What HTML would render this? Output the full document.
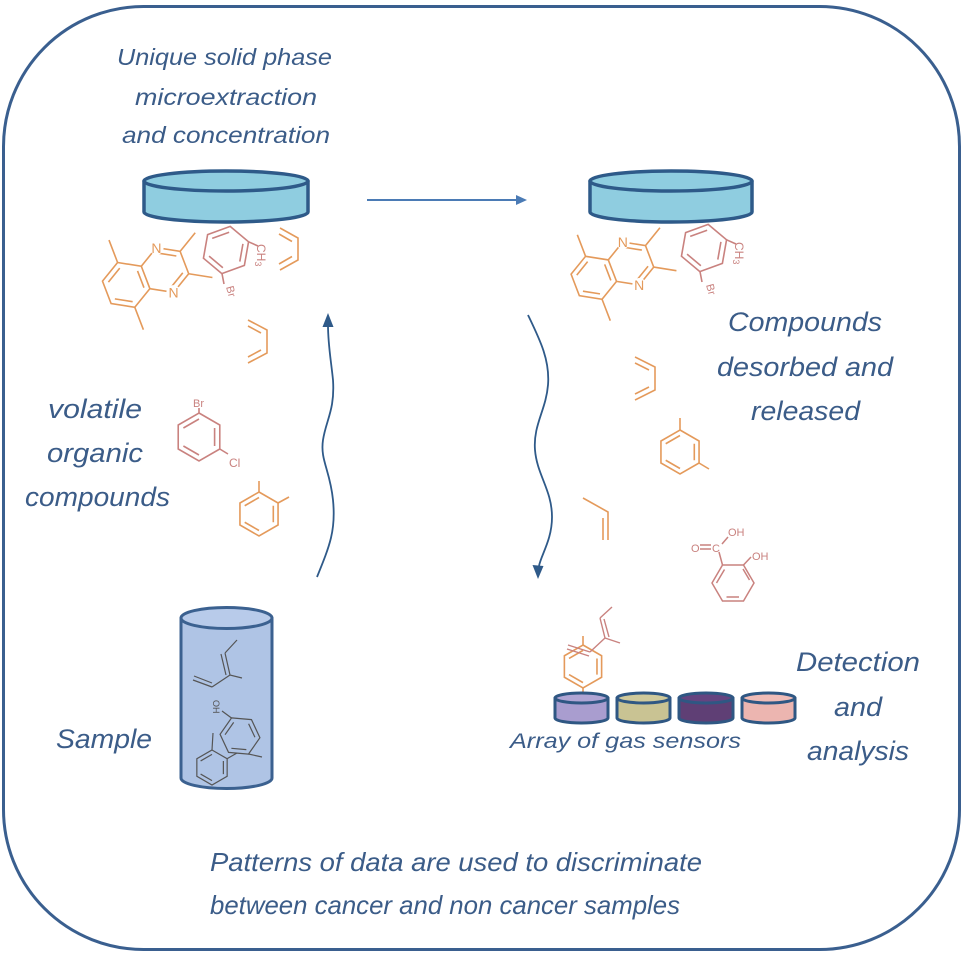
<!DOCTYPE html>
<html><head><meta charset="utf-8"><style>
html,body{margin:0;padding:0;background:#fff;}
svg{display:block;}
.t{font-family:"Liberation Sans",sans-serif;font-style:italic;fill:#3b5c88;}
.lbl{font-family:"Liberation Sans",sans-serif;}
</style></head><body>
<svg width="967" height="956" viewBox="0 0 967 956" xmlns="http://www.w3.org/2000/svg">
<defs>
<g id="hex"><path d="M0,-1 L0.866,-0.5 L0.866,0.5 L0,1 L-0.866,0.5 L-0.866,-0.5 Z M0.65,-0.375 L0.65,0.375 M0,0.75 L-0.65,0.375 M-0.65,-0.375 L0,-0.75" fill="none" vector-effect="non-scaling-stroke"/></g>
</defs>
<rect x="0" y="0" width="967" height="956" fill="#fff"/>
<rect x="3.5" y="6.5" width="956" height="943" rx="140" ry="140" fill="none" stroke="#3a5f8f" stroke-width="3"/>

<!-- Texts -->
<text class="t" x="117" y="65" font-size="23" textLength="215" lengthAdjust="spacingAndGlyphs">Unique solid phase</text>
<text class="t" x="135" y="105" font-size="23" textLength="182" lengthAdjust="spacingAndGlyphs">microextraction</text>
<text class="t" x="122" y="143" font-size="23" textLength="208" lengthAdjust="spacingAndGlyphs">and concentration</text>

<text class="t" x="728" y="331" font-size="27" textLength="154" lengthAdjust="spacingAndGlyphs">Compounds</text>
<text class="t" x="717" y="376" font-size="27" textLength="176" lengthAdjust="spacingAndGlyphs">desorbed and</text>
<text class="t" x="751" y="420" font-size="27" textLength="109" lengthAdjust="spacingAndGlyphs">released</text>

<text class="t" x="48" y="418" font-size="27" textLength="94" lengthAdjust="spacingAndGlyphs">volatile</text>
<text class="t" x="47" y="462" font-size="27" textLength="96" lengthAdjust="spacingAndGlyphs">organic</text>
<text class="t" x="25" y="506" font-size="27" textLength="145" lengthAdjust="spacingAndGlyphs">compounds</text>

<text class="t" x="56" y="748" font-size="27" textLength="96" lengthAdjust="spacingAndGlyphs">Sample</text>

<text class="t" x="796" y="671" font-size="27" textLength="124" lengthAdjust="spacingAndGlyphs">Detection</text>
<text class="t" x="834" y="716" font-size="27" textLength="48" lengthAdjust="spacingAndGlyphs">and</text>
<text class="t" x="807" y="760" font-size="27" textLength="102" lengthAdjust="spacingAndGlyphs">analysis</text>

<text class="t" x="510" y="748" font-size="21" textLength="231" lengthAdjust="spacingAndGlyphs">Array of gas sensors</text>

<text class="t" x="210" y="871" font-size="26" textLength="492" lengthAdjust="spacingAndGlyphs">Patterns of data are used to discriminate</text>
<text class="t" x="210" y="914" font-size="26" textLength="470" lengthAdjust="spacingAndGlyphs">between cancer and non cancer samples</text>

<!-- Horizontal arrow -->
<line x1="367" y1="200" x2="517" y2="200" stroke="#4b7bb5" stroke-width="2"/>
<polygon points="527,200 516,195 516,205" fill="#4b7bb5"/>

<!-- Wavy up arrow -->
<path d="M317,577 C330,545 336,530 333,500 C330,470 320,460 323,440 C326,420 335,410 333,380 C331,360 328,345 328,325" fill="none" stroke="#2f5a89" stroke-width="1.8"/>
<polygon points="328,313 322.5,327 333.5,327" fill="#2f5a89"/>

<!-- Wavy down arrow -->
<path d="M528,315 C540,340 550,360 548,385 C546,410 533,425 535,450 C537,475 552,490 552,517 C552,540 541,555 539,566" fill="none" stroke="#2f5a89" stroke-width="1.8"/>
<polygon points="538,579 532.5,565 543.5,566" fill="#2f5a89"/>

<!-- ===== Left top molecules ===== -->
<g stroke="#e49a5b" stroke-width="1.6" fill="none">
 <g transform="translate(165,270) rotate(-21) scale(24) translate(-1.732,0)">
  <use href="#hex"/>
  <path vector-effect="non-scaling-stroke" d="M0.866,-0.5 L1.732,-1 L2.598,-0.5 L2.598,0.5 L1.732,1 L0.866,0.5 M1.732,-0.75 L2.382,-0.375 M2.382,0.375 L1.732,0.75 M0,-1 L0,-2 M0,1 L0,2 M2.598,-0.5 L3.464,-1 M2.598,0.5 L3.464,1"/>
  <circle cx="1.732" cy="-1" r="0.3" fill="#fff" stroke="none"/>
  <circle cx="1.732" cy="1" r="0.3" fill="#fff" stroke="none"/>
 </g>
</g>
<text class="lbl" x="156.4" y="253" font-size="14" fill="#e49a5b" text-anchor="middle">N</text>
<text class="lbl" x="173.6" y="297.5" font-size="14" fill="#e49a5b" text-anchor="middle">N</text>

<g stroke="#c9827f" stroke-width="1.6" fill="none">
 <use href="#hex" transform="translate(226,250) rotate(10) scale(24)"/>
 <path d="M248.6,241.8 L258,246 M222,273.6 L224,284"/>
</g>
<text class="lbl" transform="translate(257,244) rotate(90)" font-size="12" fill="#c9827f">CH<tspan font-size="9" dy="2">3</tspan></text>
<text class="lbl" transform="translate(226,287) rotate(75)" font-size="11" fill="#c9827f">Br</text>

<g stroke="#e49a5b" stroke-width="1.6" fill="none">
 <path d="M280,228 L298,238 L298,260 L280,270"/>
 <path d="M279,234 L292,241.5 M292,256.5 L279,264"/>
</g>

<!-- Left disk -->
<path d="M144,181 L144,212 A82,10 0 0 0 308,212 L308,181 Z" fill="#8fcde0" stroke="#2e5a89" stroke-width="3.5" stroke-linejoin="round"/>
<ellipse cx="226" cy="181" rx="82" ry="10" fill="#8fcde0" stroke="#2e5a89" stroke-width="3.5"/>

<g stroke="#e49a5b" stroke-width="1.6" fill="none">
 <path d="M248,320 L267,330 L267,353 L248,363"/>
 <path d="M248,326 L261,333 M261,350 L248,357"/>
</g>

<g stroke="#c9827f" stroke-width="1.6" fill="none">
 <use href="#hex" transform="translate(199,437) scale(24)"/>
 <path d="M199,413 L199,408 M219.8,449 L228,454"/>
</g>
<text class="lbl" x="193" y="407" font-size="11" fill="#c9827f">Br</text>
<text class="lbl" x="229" y="467" font-size="12" fill="#c9827f">Cl</text>

<g stroke="#e49a5b" stroke-width="1.6" fill="none">
 <use href="#hex" transform="translate(259,514) scale(22)"/>
 <path d="M259,492 L259,481 M278,503 L289,497"/>
</g>

<!-- ===== Right top molecules ===== -->
<g stroke="#e49a5b" stroke-width="1.6" fill="none">
 <g transform="translate(631,263.5) rotate(-21) scale(23) translate(-1.732,0)">
  <use href="#hex"/>
  <path vector-effect="non-scaling-stroke" d="M0.866,-0.5 L1.732,-1 L2.598,-0.5 L2.598,0.5 L1.732,1 L0.866,0.5 M1.732,-0.75 L2.382,-0.375 M2.382,0.375 L1.732,0.75 M0,-1 L0,-2 M0,1 L0,2 M2.598,-0.5 L3.464,-1 M2.598,0.5 L3.464,1"/>
  <circle cx="1.732" cy="-1" r="0.3" fill="#fff" stroke="none"/>
  <circle cx="1.732" cy="1" r="0.3" fill="#fff" stroke="none"/>
 </g>
</g>
<text class="lbl" x="622.8" y="247" font-size="14" fill="#e49a5b" text-anchor="middle">N</text>
<text class="lbl" x="639.2" y="290" font-size="14" fill="#e49a5b" text-anchor="middle">N</text>

<g transform="translate(478,-2)">
 <g stroke="#c9827f" stroke-width="1.6" fill="none">
  <use href="#hex" transform="translate(226,250) rotate(10) scale(24)"/>
  <path d="M248.6,241.8 L258,246 M222,273.6 L224,284"/>
 </g>
 <text class="lbl" transform="translate(257,244) rotate(90)" font-size="12" fill="#c9827f">CH<tspan font-size="9" dy="2">3</tspan></text>
 <text class="lbl" transform="translate(228,287) rotate(75)" font-size="11" fill="#c9827f">Br</text>
</g>

<!-- Right disk -->
<path d="M590,181 L590,212 A81,10 0 0 0 752,212 L752,181 Z" fill="#8fcde0" stroke="#2e5a89" stroke-width="3.5" stroke-linejoin="round"/>
<ellipse cx="671" cy="181" rx="81" ry="10" fill="#8fcde0" stroke="#2e5a89" stroke-width="3.5"/>

<g stroke="#e49a5b" stroke-width="1.6" fill="none">
 <path d="M635,357 L655,367 L655,390 L635,400"/>
 <path d="M635,363 L649,370 M649,387 L635,394"/>
</g>

<g stroke="#e49a5b" stroke-width="1.6" fill="none">
 <use href="#hex" transform="translate(680,452) scale(22)"/>
 <path d="M680,430 L680,418 M699,463 L709,469"/>
</g>

<g stroke="#e49a5b" stroke-width="1.6" fill="none">
 <path d="M583,498 L608,512 L608,540 M603,518 L603,540"/>
</g>

<g stroke="#c9827f" stroke-width="1.5" fill="none">
 <path d="M754,583 L743.5,601 L722.5,601 L712,583 L722.5,565 L743.5,565 Z M739,597 L726.5,597 M716.5,583 L724.5,569.5 M743,569 L749.5,580"/>
 <path d="M722.5,565 L719,552 M722,544 L728,537 M743.5,565 L751,557"/>
 <path d="M700,545 L711,545 M700,549 L711,549"/>
</g>
<text class="lbl" x="691" y="552" font-size="11" fill="#c9827f">O</text>
<text class="lbl" x="712" y="552" font-size="11" fill="#c9827f">C</text>
<text class="lbl" x="728" y="536" font-size="11" fill="#c9827f">OH</text>
<text class="lbl" x="752" y="560" font-size="11" fill="#c9827f">OH</text>

<g stroke="#e49a5b" stroke-width="1.6" fill="none">
 <use href="#hex" transform="translate(583,666.5) scale(21.5)"/>
 <path d="M583,645 L583,636 M583,688 L583,695"/>
</g>
<g stroke="#c9827f" stroke-width="1.4" fill="none">
 <path d="M568,645 L590,652 M567,649 L589,656 M590,652 L605,638 M605,638 L600,618 M609,637 L604,619 M600,618 L612,607 M605,638 L620,643"/>
</g>

<!-- sensors -->
<g stroke="#2f5783" stroke-width="3" stroke-linejoin="round">
 <path d="M555,698 L555,718 A26.5,5 0 0 0 608,718 L608,698 Z" fill="#a99dcf"/>
 <ellipse cx="581.5" cy="698" rx="26.5" ry="5" fill="#b0a5d4"/>
 <path d="M617,698 L617,718 A26.5,5 0 0 0 670,718 L670,698 Z" fill="#c9c393"/>
 <ellipse cx="643.5" cy="698" rx="26.5" ry="5" fill="#cfc99b"/>
 <path d="M679,698 L679,718 A27,5 0 0 0 733,718 L733,698 Z" fill="#5f3f75"/>
 <ellipse cx="706" cy="698" rx="27" ry="5" fill="#654480"/>
 <path d="M742,698 L742,718 A26.5,5 0 0 0 795,718 L795,698 Z" fill="#ecb5b0"/>
 <ellipse cx="768.5" cy="698" rx="26.5" ry="5" fill="#efbcb7"/>
</g>

<!-- Sample cylinder -->
<path d="M181,618 L181,778 A45.5,10.5 0 0 0 272,778 L272,618 Z" fill="#afc4e5" stroke="#3b6190" stroke-width="3" stroke-linejoin="round"/>
<ellipse cx="226.5" cy="618" rx="45.5" ry="10.5" fill="#b8cbea" stroke="#3b6190" stroke-width="3"/>

<g stroke="#555" stroke-width="1.2" fill="none">
 <path d="M193,680 L212,687 M194,676 L212,683 M212,687 L230,675 L242,678 M230,675 L225,653 M226,675 L221,654 M225,653 L237,640"/>
 <use href="#hex" transform="translate(240,736) rotate(-25) scale(20)"/>
 <path d="M231.5,718 L222,711 M248.5,754 L262,757"/>
 <use href="#hex" transform="translate(212,767.5) scale(17.5)"/>
 <path d="M212,750 L213,733 M227,758.75 L237,753"/>
</g>
<text class="lbl" transform="translate(213,700) rotate(90)" font-size="9" fill="#555">OH</text>
</svg>
</body></html>
